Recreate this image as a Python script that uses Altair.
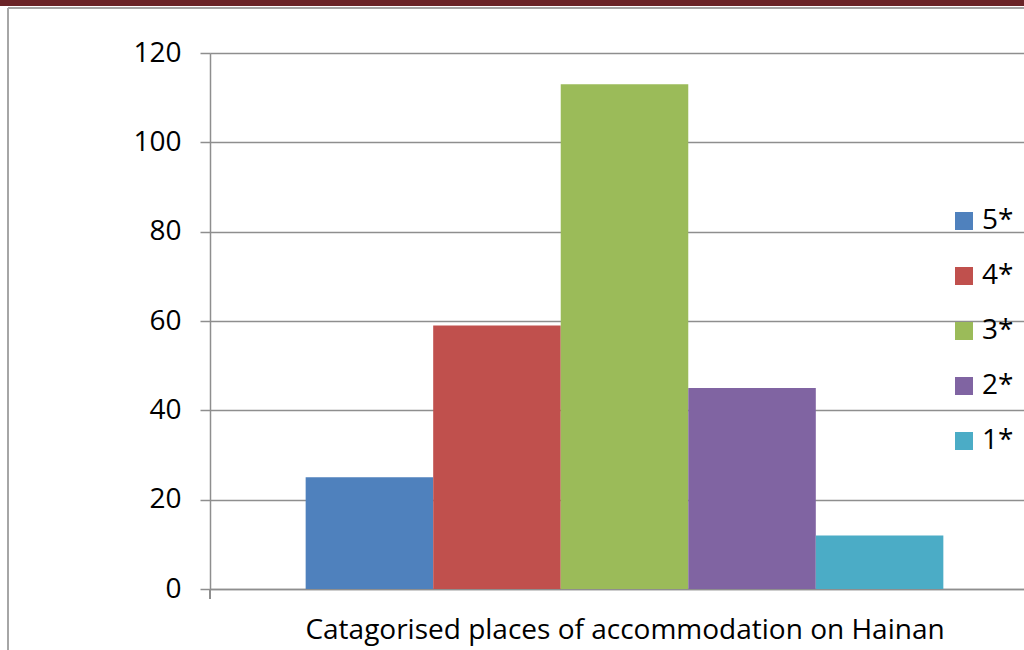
import altair as alt
import pandas as pd

# Hotel counts on Hainan by star rating
stars = ["5*", "4*", "3*", "2*", "1*"]
counts = [25, 59, 113, 45, 12]
colors = ["#4F81BD", "#C0504D", "#9BBB59", "#8064A2", "#4BACC6"]
y_ticks = [0, 20, 40, 60, 80, 100, 120]

FONT = "Open Sans"
GRID = "#8E8E8E"
FS = 28

df = pd.DataFrame({"star": stars, "count": counts})

W, H = 814, 536

bars = alt.Chart(df).mark_bar().encode(
    x=alt.X(
        "star:N",
        sort=stars,
        scale=alt.Scale(domain=stars, range=[0, 829], paddingInner=0, paddingOuter=0.75),
        axis=alt.Axis(
            title="Catagorised places of accommodation on Hainan",
            titleFont=FONT, titleFontSize=FS, titleFontWeight="normal", titleColor="#000000",
            titlePadding=27, labels=False, ticks=False,
            domainColor=GRID, domainWidth=1.5,
        ),
    ),
    y=alt.Y(
        "count:Q",
        scale=alt.Scale(domain=[0, 120], nice=False),
        axis=alt.Axis(
            title=None, values=y_ticks,
            labelFont=FONT, labelFontSize=FS, labelColor="#000000", labelPadding=19,
            tickSize=10, tickColor=GRID, tickWidth=1.5,
            domainColor=GRID, domainWidth=1.5,
            gridColor=GRID, gridWidth=1.5,
        ),
    ),
    color=alt.Color(
        "star:N",
        sort=stars,
        scale=alt.Scale(domain=stars, range=colors),
        legend=alt.Legend(
            title=None, orient="none", legendX=740, legendY=154,
            symbolType="square", symbolSize=324, symbolStrokeWidth=0,
            labelFont=FONT, labelFontSize=FS, labelColor="#000000",
            labelOffset=4, rowPadding=27, padding=0,
        ),
    ),
)

# Category boundary tick below the origin
origin_tick = alt.Chart(df).mark_rule(color=GRID, strokeWidth=1.5).encode(
    x=alt.value(0), y=alt.value(H), y2=alt.value(H + 10)
)

# Frame: dark band on top and thin border lines
band = alt.Chart(df).mark_rect(color="#6A2327").encode(
    x=alt.value(-210), x2=alt.value(W), y=alt.value(-53), y2=alt.value(-47)
)
frame_v = alt.Chart(df).mark_rule(color="#A6A6A6", strokeWidth=1.5).encode(
    x=alt.value(-202), y=alt.value(-45), y2=alt.value(H + 61)
)
frame_h = alt.Chart(df).mark_rule(color="#A6A6A6", strokeWidth=1.5).encode(
    x=alt.value(-202), x2=alt.value(W), y=alt.value(-45)
)

chart = alt.layer(bars, origin_tick, band, frame_v, frame_h).properties(
    width=W, height=H,
    autosize="none",
    padding={"left": 210, "top": 53, "right": 0, "bottom": 61},
).configure_view(stroke=None).configure(background="#FFFFFF")

chart.save("out.html", embed_options={"renderer": "svg", "actions": False})
